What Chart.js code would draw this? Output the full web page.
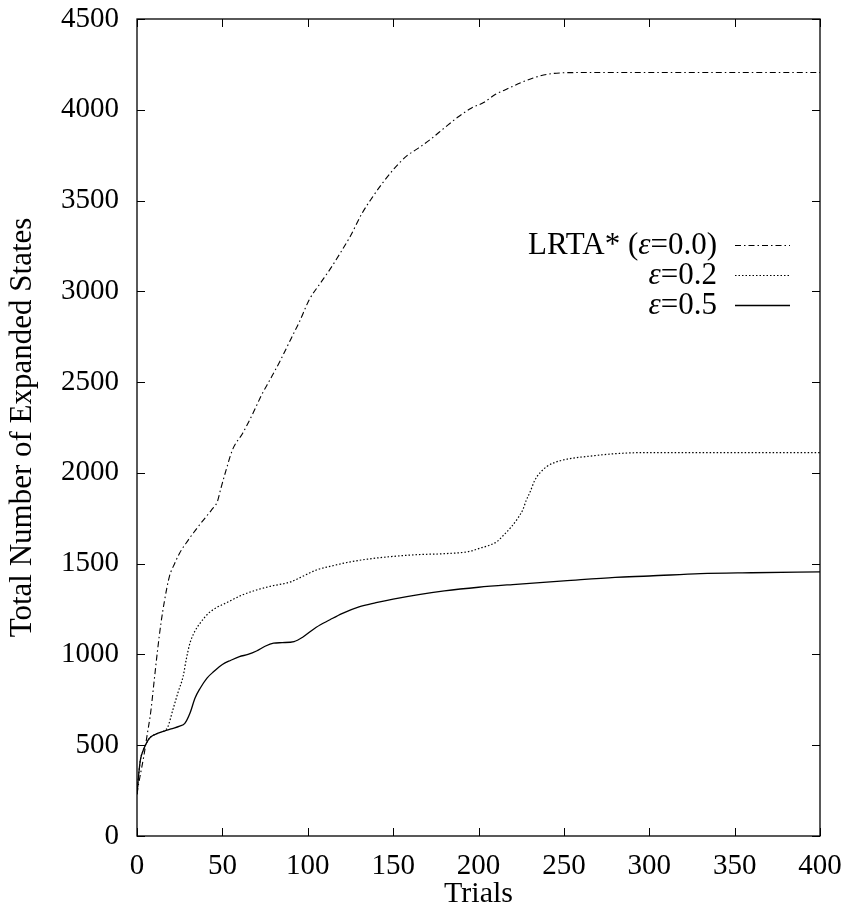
<!DOCTYPE html>
<html>
<head>
<meta charset="utf-8">
<script src="https://cdn.jsdelivr.net/npm/chart.js@4.4.0/dist/chart.umd.min.js"></script>
<style>html,body{margin:0;background:#fff}</style>
</head>
<body>
<canvas id="c" width="844" height="909"></canvas>
<script>
// ── data ─────────────────────────────────────────────────────
const xTicks = [0, 50, 100, 150, 200, 250, 300, 350, 400];
const yTicks = [0, 500, 1000, 1500, 2000, 2500, 3000, 3500, 4000, 4500];

const lrtaX = [0, 1, 2, 4, 6, 8, 10, 12, 14, 16, 19, 22, 25, 30, 33, 38, 44, 47, 49, 52, 56, 62, 68, 73, 78, 84, 90, 95, 101, 107, 113, 119, 125, 132, 138, 144, 151, 158, 165, 172, 180, 188, 196, 203, 210, 218, 225, 232, 240, 248, 260, 300, 400];
const lrtaY = [230, 290, 340, 440, 560, 680, 850, 1020, 1170, 1290, 1430, 1500, 1559, 1630, 1669, 1730, 1800, 1840, 1910, 2010, 2129, 2220, 2330, 2430, 2515, 2620, 2735, 2830, 2956, 3040, 3121, 3210, 3305, 3433, 3520, 3599, 3680, 3746, 3790, 3838, 3900, 3960, 4010, 4040, 4085, 4120, 4150, 4175, 4195, 4203, 4205, 4205, 4205];

const eps2X = [0, 1, 2, 4, 6, 8, 12, 16, 18, 21, 24, 27, 29, 31, 34, 37, 42, 47, 52, 62, 70, 78, 90, 97, 105, 113, 125, 135, 150, 165, 180, 195, 201, 206, 211, 215, 219, 223, 226, 228, 230, 233, 236, 240, 244, 252, 265, 279, 298, 330, 400];
const eps2Y = [230, 340, 420, 480, 520, 545, 565, 580, 600, 695, 790, 879, 980, 1062, 1130, 1173, 1228, 1260, 1283, 1329, 1355, 1375, 1400, 1430, 1465, 1485, 1510, 1525, 1540, 1550, 1555, 1568, 1586, 1600, 1623, 1660, 1700, 1750, 1798, 1850, 1890, 1960, 2000, 2035, 2055, 2076, 2092, 2105, 2112, 2112, 2112];

const eps5X = [0, 1, 2, 4, 6, 8, 12, 16, 20, 25, 28, 31, 34, 37, 41, 45, 50, 55, 60, 65, 70, 75, 80, 85, 92, 97, 105, 113, 120, 130, 140, 150, 165, 180, 200, 220, 250, 280, 300, 330, 360, 400];
const eps5Y = [230, 340, 420, 480, 520, 545, 565, 578, 590, 605, 620, 676, 760, 814, 870, 906, 945, 968, 988, 1000, 1019, 1045, 1062, 1065, 1071, 1095, 1150, 1191, 1225, 1262, 1285, 1305, 1330, 1350, 1370, 1385, 1405, 1425, 1432, 1445, 1450, 1455];

const FONT = "'Liberation Serif', 'Times New Roman', serif";
const pts = (xs, ys) => xs.map((x, i) => ({ x, y: ys[i] }));

// ── frame with inward ticks on all four sides ─────────────────
const framePlugin = {
  id: "frame",
  afterDraw(chart) {
    const { ctx, chartArea: a, scales: { x, y } } = chart;
    const tl = 8;
    ctx.save();
    ctx.strokeStyle = "#000";
    ctx.lineWidth = 1.3;
    ctx.strokeRect(a.left, a.top, a.right - a.left, a.bottom - a.top);
    ctx.lineWidth = 1;
    ctx.beginPath();
    xTicks.forEach(v => {
      const px = Math.round(x.getPixelForValue(v)) + 0.5;
      ctx.moveTo(px, a.bottom); ctx.lineTo(px, a.bottom - tl);
      ctx.moveTo(px, a.top); ctx.lineTo(px, a.top + tl);
    });
    yTicks.forEach(v => {
      const py = Math.round(y.getPixelForValue(v)) + 0.5;
      ctx.moveTo(a.left, py); ctx.lineTo(a.left + tl, py);
      ctx.moveTo(a.right, py); ctx.lineTo(a.right - tl, py);
    });
    ctx.stroke();
    ctx.restore();
  }
};

// ── gnuplot style key: text right aligned, sample line after ──
const keyPlugin = {
  id: "key",
  afterDraw(chart) {
    const { ctx } = chart;
    const textRight = 717, x0 = 735, x1 = 790;
    const rows = [245, 275, 305];
    const normal = `31px ${FONT}`, italic = `italic 31px ${FONT}`;
    ctx.save();
    ctx.fillStyle = "#000";
    ctx.textBaseline = "middle";
    chart.data.datasets.forEach((ds, i) => {
      const parts = i === 0
        ? [["LRTA* (", normal], ["ε", italic], ["=0.0)", normal]]
        : [["ε", italic], [i === 1 ? "=0.2" : "=0.5", normal]];
      let w = 0;
      parts.forEach(([t, f]) => { ctx.font = f; w += ctx.measureText(t).width; });
      let cx = textRight - w;
      ctx.textAlign = "left";
      parts.forEach(([t, f]) => { ctx.font = f; ctx.fillText(t, cx, rows[i] + 1); cx += ctx.measureText(t).width; });
      ctx.beginPath();
      ctx.setLineDash(ds.borderDash || []);
      ctx.lineWidth = ds.borderWidth;
      ctx.strokeStyle = ds.borderColor;
      ctx.moveTo(x0, rows[i] + 0.5); ctx.lineTo(x1, rows[i] + 0.5);
      ctx.stroke();
    });
    ctx.restore();
  }
};

Chart.defaults.font.family = FONT;
Chart.defaults.color = "#000";

new Chart(document.getElementById("c"), {
  type: "line",
  data: {
    datasets: [
      { label: "LRTA* (ε=0.0)", data: pts(lrtaX, lrtaY), borderColor: "#000", borderWidth: 1.1, borderDash: [6, 3, 1.5, 3] },
      { label: "ε=0.2", data: pts(eps2X, eps2Y), borderColor: "#000", borderWidth: 1.2, borderDash: [1.5, 2] },
      { label: "ε=0.5", data: pts(eps5X, eps5Y), borderColor: "#000", borderWidth: 1.3 },
    ],
  },
  options: {
    responsive: false, animation: false,
    layout: { padding: { left: 0, right: 24, top: 19, bottom: 0 } },
    elements: { point: { radius: 0 }, line: { cubicInterpolationMode: "monotone" } },
    plugins: { legend: { display: false }, tooltip: { enabled: false } },
    scales: {
      x: {
        type: "linear", min: 0, max: 400,
        grid: { display: false, drawTicks: false, tickLength: 0 },
        border: { display: false },
        ticks: { stepSize: 50, padding: 13, font: { size: 29 }, maxRotation: 0, callback: v => String(v) },
        title: { display: true, text: "Trials", font: { size: 30, lineHeight: 1 }, padding: { top: 0, bottom: 0 } },
        afterFit: s => { s.height = 73; s.paddingLeft = 0; s.paddingRight = 0; },
      },
      y: {
        min: 0, max: 4500,
        grid: { display: false, drawTicks: false, tickLength: 0 },
        border: { display: false },
        ticks: { stepSize: 500, padding: 18, font: { size: 29 }, callback: v => String(v) },
        title: { display: true, text: "Total Number of Expanded States", font: { size: 31, lineHeight: 1 }, padding: { top: 7, bottom: 0 } },
        afterFit: s => { s.width = 137; s.paddingTop = 0; s.paddingBottom = 0; },
      },
    },
  },
  plugins: [framePlugin, keyPlugin],
});
</script>
</body>
</html>
